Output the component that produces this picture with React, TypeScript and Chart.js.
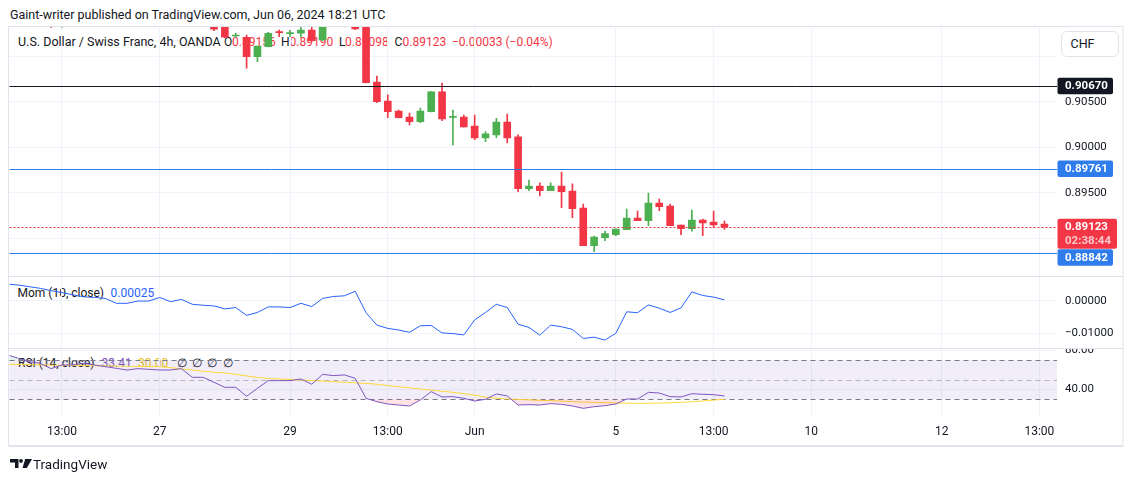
import { useEffect, useRef } from 'react';
import { Chart, registerables } from 'chart.js';

Chart.register(...registerables);

// 4h bars, index 0 = bar at the left edge of the panes.
// null = bar lies above the visible price range
const opens = [
  null, null, null, null, 0.9142, 0.9138, null, null, null, null,
  null, null, null, null, null, null, null, null, null, 0.9136,
  0.9134, 0.91221, 0.91207, 0.90994, 0.91104, 0.91265, 0.91248, 0.91251, 0.91287, 0.91177,
  null, 0.9137, 0.9136, 0.91345, 0.90716, 0.90508, 0.90398, 0.90332, 0.90281, 0.90391,
  0.90607, 0.90327, 0.90332, 0.90233, 0.90102, 0.90135, 0.90277, 0.90113, 0.89545, 0.89575,
  0.89523, 0.89575, 0.8952, 0.89333, 0.88919, 0.89007, 0.8904, 0.89095, 0.89223, 0.89194,
  0.89388, 0.89355, 0.89146, 0.89106, 0.89201, 0.89179, 0.89156,
];
const highs = [
  null, null, null, null, 0.9146, 0.9147, null, null, null, null,
  null, null, null, null, null, null, null, null, null, 0.914,
  0.9137, 0.91251, 0.91232, 0.91111, 0.91262, 0.91287, 0.91283, 0.91331, 0.91323, 0.9138,
  null, 0.9143, 0.914, 0.9138, 0.90782, 0.90574, 0.90409, 0.90376, 0.90431, 0.9061,
  0.90705, 0.90409, 0.90354, 0.90354, 0.90171, 0.90318, 0.90365, 0.90135, 0.8964, 0.89608,
  0.89608, 0.89728, 0.89597, 0.89377, 0.89026, 0.8908, 0.89102, 0.89322, 0.893, 0.89498,
  0.89432, 0.89377, 0.89146, 0.89311, 0.89212, 0.893, 0.8919,
];
const lows = [
  null, null, null, null, 0.91315, 0.91315, null, null, null, null,
  null, null, null, null, null, null, null, null, null, 0.91279,
  0.91204, 0.91207, 0.90867, 0.90939, 0.911, 0.91214, 0.91214, 0.91207, 0.91165, 0.9117,
  null, 0.91322, 0.91292, 0.90705, 0.9049, 0.90325, 0.90322, 0.90244, 0.9027, 0.90388,
  0.90292, 0.90025, 0.9022, 0.90083, 0.90061, 0.90105, 0.90047, 0.89512, 0.89523, 0.89465,
  0.89523, 0.89337, 0.89227, 0.88919, 0.88854, 0.88974, 0.89029, 0.89095, 0.89194, 0.89139,
  0.89304, 0.89139, 0.8904, 0.8908, 0.89029, 0.89121, 0.89098,
];
const closes = [
  null, null, null, null, 0.9138, 0.9143, null, null, null, null,
  null, null, null, null, null, null, null, null, null, 0.91295,
  0.91207, 0.91226, 0.90994, 0.91111, 0.91251, 0.91258, 0.91254, 0.91287, 0.9117, 0.9134,
  null, 0.914, 0.91298, 0.90709, 0.90501, 0.90391, 0.90325, 0.90281, 0.90398, 0.90607,
  0.9031, 0.90331, 0.90222, 0.90102, 0.90146, 0.90277, 0.90102, 0.89545, 0.89575, 0.89523,
  0.89575, 0.89512, 0.89326, 0.88919, 0.89015, 0.89051, 0.89102, 0.89223, 0.89194, 0.89388,
  0.89348, 0.89139, 0.89106, 0.89201, 0.89168, 0.89146, 0.89123,
];

// Momentum (10, close)
const momentum = [
  0.0051, 0.0048, 0.0043, 0.0038, 0.0031, 0.0025, 0.0018, 0.0012, 0.001, 0.0007,
  -0.0008, -0.0008, -0.0001, -0.0001, 0.001, -0.0003, 0.0004, -0.0011, -0.0014, -0.0016,
  -0.0025, -0.0021, -0.0045, -0.0036, -0.0019, -0.0019, -0.0021, -0.0008, -0.0018, 0.0007,
  0.0013, 0.0015, 0.0029, -0.0037, -0.0075, -0.0085, -0.009, -0.0097, -0.0077, -0.0076,
  -0.0099, -0.0101, -0.0105, -0.0059, -0.0036, -0.0011, -0.0021, -0.0072, -0.0082, -0.0106,
  -0.0075, -0.008, -0.0088, -0.0116, -0.0112, -0.0121, -0.01, -0.0034, -0.0037, -0.0013,
  -0.0023, -0.0036, -0.0022, 0.0027, 0.0016, 0.0011, 0.00025,
];

// RSI (14, close) and its moving average
const rsi = [
  75.1, 71.7, 68.3, 66.6, 61.2, 64.9, 64.9, 66.6, 64.9, 63.2,
  61.5, 59.8, 61.2, 60.5, 59.8, 59.8, 61.2, 52.4, 52.4, 47.3,
  42.2, 42.2, 33.1, 41.2, 49.0, 49.0, 49.0, 50.7, 45.3, 55.4,
  54.1, 54.8, 51.4, 31.0, 27.6, 25.2, 24.2, 23.2, 29.3, 37.8,
  32.4, 32.7, 31.0, 28.3, 30.0, 35.4, 33.4, 24.2, 24.6, 24.2,
  25.6, 24.9, 23.2, 20.8, 22.5, 23.5, 25.2, 30.3, 30.3, 37.1,
  36.4, 32.7, 32.4, 35.7, 35.1, 34.7, 33.41,
];
const rsiMa = [
  65.6, 65.4, 65.2, 65.0, 64.8, 64.6, 64.4, 64.3, 64.2, 64.0,
  63.8, 63.6, 63.4, 63.3, 63.2, 62.2, 61.0, 59.8, 58.6, 57.6,
  56.8, 55.4, 53.8, 52.2, 51.2, 50.6, 50.1, 49.7, 49.1, 48.6,
  48.0, 47.4, 46.8, 46.2, 45.3, 44.0, 42.8, 41.6, 40.5, 39.3,
  38.2, 37.1, 35.8, 34.2, 32.2, 31.0, 30.4, 29.9, 29.5, 29.0,
  28.6, 28.1, 27.6, 27.2, 26.9, 26.6, 26.3, 26.0, 25.9, 26.0,
  26.2, 26.5, 26.9, 27.5, 28.3, 29.2, 30.0,
];

// time axis: bar index of each label
const timeTickIdx = [5, 14, 26, 35, 43, 56, 65, 74, 86, 95];
const timeTickLabels = ['13:00', '27', '29', '13:00', 'Jun', '5', '13:00', '10', '12', '13:00'];

const priceGrid = [0.91, 0.905, 0.9, 0.895, 0.89];
const priceLabeled = [0.905, 0.9, 0.895];
const momTicks = [0, -0.01];
const rsiTicks = [40, 80];
const rsiBands = [70, 50, 30];

const BLUE = '#2f7ced';
const GREEN = '#4caf50';
const RED = '#f23645';
const TEXT = '#131722';

const levelLines = [
  { value: 0.9067, color: TEXT },
  { value: 0.89761, color: BLUE },
  { value: 0.88842, color: BLUE },
];
const lastPrice = 0.89123;
const countdown = '02:38:44';

const priceTags = [
  { value: 0.9067, bg: TEXT, sub: '' },
  { value: 0.89761, bg: BLUE, sub: '' },
  { value: lastPrice, bg: RED, sub: countdown },
  { value: 0.88842, bg: BLUE, sub: '' },
];

const FONT = 'Roboto, sans-serif';

const panesPlugin = {
  id: 'panes',
  beforeDatasetsDraw(chart: any) {
    const { ctx, chartArea } = chart;
    const r = chart.scales.yRsi;
    const top = r.getPixelForValue(70);
    const bot = r.getPixelForValue(30);
    ctx.save();
    ctx.fillStyle = 'rgba(126,87,194,0.1)';
    ctx.fillRect(chartArea.left, top, chartArea.right - chartArea.left, bot - top);
    ctx.setLineDash([5, 4]);
    ctx.lineWidth = 1;
    rsiBands.forEach((v) => {
      const y = Math.round(r.getPixelForValue(v)) + 0.5;
      ctx.strokeStyle = v === 50 ? 'rgba(120,123,134,0.5)' : '#787b86';
      ctx.beginPath();
      ctx.moveTo(chartArea.left, y);
      ctx.lineTo(chartArea.right, y);
      ctx.stroke();
    });
    ctx.restore();
  },
  afterDatasetsDraw(chart: any) {
    const { ctx, chartArea } = chart;
    const y = chart.scales.y;
    ctx.save();
    ctx.lineWidth = 1;
    levelLines.forEach((l) => {
      const py = Math.round(y.getPixelForValue(l.value)) + 0.5;
      ctx.strokeStyle = l.color;
      ctx.beginPath();
      ctx.moveTo(chartArea.left, py);
      ctx.lineTo(chartArea.right, py);
      ctx.stroke();
    });
    // last price dotted line
    const py = Math.round(y.getPixelForValue(lastPrice)) + 0.5;
    ctx.strokeStyle = RED;
    ctx.setLineDash([2, 2]);
    ctx.beginPath();
    ctx.moveTo(chartArea.left, py);
    ctx.lineTo(chartArea.right, py);
    ctx.stroke();
    ctx.restore();
  },
  afterDraw(chart: any) {
    const { ctx, chartArea } = chart;
    const y = chart.scales.y;
    const r = chart.scales.yRsi;
    ctx.save();

    // RSI axis labels, clipped to their pane like the original
    ctx.save();
    ctx.beginPath();
    ctx.rect(chartArea.right, r.top + 1, 70, r.bottom - r.top);
    ctx.clip();
    ctx.font = `11.5px ${FONT}`;
    ctx.fillStyle = TEXT;
    ctx.textBaseline = 'middle';
    ctx.textAlign = 'left';
    rsiTicks.forEach((v) => {
      ctx.fillText(v.toFixed(2), chartArea.right + 8, r.getPixelForValue(v));
    });
    ctx.restore();

    // price tags on the right axis
    ctx.font = `bold 11.5px ${FONT}`;
    ctx.textBaseline = 'middle';
    ctx.textAlign = 'left';
    let prevBottom = -Infinity;
    priceTags.forEach((t) => {
      const h = t.sub ? 30 : 16.5;
      const w = t.sub ? 59.5 : 55.5;
      let top = y.getPixelForValue(t.value) - 8.4;
      if (top < prevBottom) top = prevBottom + 0.5;
      ctx.fillStyle = t.bg;
      ctx.beginPath();
      ctx.roundRect(chartArea.right + 0.5, top, w, h, 2);
      ctx.fill();
      ctx.fillStyle = '#ffffff';
      ctx.fillText(t.value.toFixed(5), chartArea.right + 8, top + 8.4);
      if (t.sub) {
        ctx.fillStyle = 'rgba(255,255,255,0.72)';
        ctx.fillText(t.sub, chartArea.right + 8, top + 22.6);
      }
      prevBottom = top + h;
    });

    // pane separators
    ctx.strokeStyle = '#dfe2ea';
    ctx.lineWidth = 1;
    [chart.scales.y.bottom, chart.scales.yMom.bottom].forEach((b: number) => {
      const py = Math.round(b) + 0.5;
      ctx.beginPath();
      ctx.moveTo(9, py);
      ctx.lineTo(1123, py);
      ctx.stroke();
    });

    // outer frame
    ctx.strokeStyle = '#e0e3eb';
    ctx.strokeRect(8.5, 26.5, 1114.5, 419);
    ctx.lineWidth = 2;
    ctx.beginPath();
    ctx.moveTo(8.5, 446);
    ctx.lineTo(1123, 446);
    ctx.stroke();
    ctx.restore();
  },
};

const App = () => {
  const canvasRef = useRef<HTMLCanvasElement>(null);

  useEffect(() => {
    if (!canvasRef.current) return;
    const idx = opens.map((_, i) => i);
    const bars = idx.filter((i) => opens[i] !== null);
    const colorOf = (i: number) => ((closes[i] as number) >= (opens[i] as number) ? GREEN : RED);

    const chart = new Chart(canvasRef.current, {
      type: 'bar',
      data: {
        datasets: [
          {
            type: 'bar',
            label: 'wicks',
            data: bars.map((i) => ({ x: i, y: [lows[i], highs[i]] })) as any,
            backgroundColor: bars.map(colorOf),
            barThickness: 1,
            grouped: false,
            minBarLength: 1,
            yAxisID: 'y',
            clip: 0 as any,
            order: 2,
          },
          {
            type: 'bar',
            label: 'bodies',
            data: bars.map((i) => ({ x: i, y: [opens[i], closes[i]] })) as any,
            backgroundColor: bars.map(colorOf),
            barThickness: 7,
            grouped: false,
            minBarLength: 1,
            yAxisID: 'y',
            clip: 0 as any,
            order: 1,
          },
          {
            type: 'line',
            label: 'Mom',
            data: idx.map((i) => ({ x: i, y: momentum[i] })),
            borderColor: '#2962ff',
            borderWidth: 1,
            pointRadius: 0,
            tension: 0,
            yAxisID: 'yMom',
            clip: 0 as any,
          },
          {
            type: 'line',
            label: 'RSI overbought',
            data: idx.map((i) => ({ x: i, y: rsi[i] })),
            borderWidth: 0,
            pointRadius: 0,
            fill: { target: { value: 70 }, above: 'rgba(8,153,129,0.12)', below: 'transparent' },
            yAxisID: 'yRsi',
            clip: 0 as any,
          },
          {
            type: 'line',
            label: 'RSI',
            data: idx.map((i) => ({ x: i, y: rsi[i] })),
            borderColor: '#7e57c2',
            borderWidth: 1,
            pointRadius: 0,
            tension: 0,
            fill: { target: { value: 30 }, above: 'transparent', below: 'rgba(242,54,69,0.14)' },
            yAxisID: 'yRsi',
            clip: 0 as any,
          },
          {
            type: 'line',
            label: 'RSI MA',
            data: idx.map((i) => ({ x: i, y: rsiMa[i] })),
            borderColor: '#fdd835',
            borderWidth: 1,
            pointRadius: 0,
            tension: 0,
            yAxisID: 'yRsi',
            clip: 0 as any,
          },
        ],
      },
      options: {
        responsive: false,
        animation: false,
        events: [],
        layout: { padding: { left: 9.5, top: 27, right: 10, bottom: 34.3 } },
        plugins: { legend: { display: false }, tooltip: { enabled: false } },
        scales: {
          x: {
            type: 'linear',
            min: 0.17,
            max: 96.62,
            offset: false,
            grid: { color: '#f0f3fa', drawTicks: false, offset: false },
            border: { display: false },
            afterBuildTicks: (s: any) => {
              s.ticks = timeTickIdx.map((v) => ({ value: v }));
            },
            afterFit: (s: any) => {
              s.height = 30;
            },
            ticks: {
              autoSkip: false,
              maxRotation: 0,
              padding: 8,
              color: TEXT,
              font: { family: FONT, size: 12 },
              callback: (_v: any, i: number) => timeTickLabels[i],
            },
          },
          y: {
            type: 'linear',
            position: 'right',
            stack: 'panes',
            stackWeight: 248.5,
            min: 0.88592,
            max: 0.9132,
            grid: { color: '#f0f3fa', drawTicks: false },
            border: { display: false },
            afterBuildTicks: (s: any) => {
              s.ticks = priceGrid.map((v) => ({ value: v }));
            },
            afterFit: (s: any) => {
              s.width = 66;
            },
            ticks: {
              autoSkip: false,
              padding: 8,
              color: TEXT,
              font: { family: FONT, size: 11.5 },
              callback: (v: any) =>
                priceLabeled.some((p) => Math.abs(p - v) < 1e-9) ? Number(v).toFixed(5) : '',
            },
          },
          yMom: {
            type: 'linear',
            position: 'right',
            stack: 'panes',
            stackWeight: 72,
            min: -0.01437,
            max: 0.00774,
            grid: { color: '#f0f3fa', drawTicks: false },
            border: { display: false },
            afterBuildTicks: (s: any) => {
              s.ticks = momTicks.map((v) => ({ value: v }));
            },
            afterFit: (s: any) => {
              s.width = 66;
            },
            ticks: {
              autoSkip: false,
              padding: 8,
              color: TEXT,
              font: { family: FONT, size: 11.5 },
              callback: (v: any) =>
                (v < 0 ? '\u2212' : '') + Math.abs(Number(v)).toFixed(5),
            },
          },
          yRsi: {
            type: 'linear',
            position: 'right',
            stack: 'panes',
            stackWeight: 69.2,
            min: 12.3,
            max: 82.7,
            grid: { color: '#f0f3fa', drawTicks: false },
            border: { display: false },
            afterBuildTicks: (s: any) => {
              s.ticks = rsiTicks.map((v) => ({ value: v }));
            },
            afterFit: (s: any) => {
              s.width = 66;
            },
            ticks: {
              autoSkip: false,
              padding: 8,
              // labels are painted by the panes plugin so they can be clipped
              callback: () => '',
            },
          },
        },
      } as any,
      plugins: [panesPlugin],
    });

    return () => {
      chart.destroy();
    };
  }, []);

  const abs = (left: number, top: number, extra: any = {}) => ({
    position: 'absolute' as const,
    left,
    top,
    lineHeight: '16px',
    whiteSpace: 'nowrap' as const,
    ...extra,
  });

  return (
    <div
      style={{
        position: 'fixed',
        left: 0,
        top: 0,
        width: 1133,
        height: 481,
        background: '#ffffff',
        overflow: 'hidden',
        fontFamily: FONT,
        color: TEXT,
      }}
    >
      <div style={abs(10, 7, { fontSize: 12.5 })}>
        Gaint-writer published on TradingView.com, Jun 06, 2024 18:21 UTC
      </div>

      {/* main legend, drawn under the candles */}
      <div style={abs(18, 34, { fontSize: 12.5 })}>U.S. Dollar / Swiss Franc, 4h, OANDA</div>
      <div style={abs(224, 34, { fontSize: 12 })}>O</div>
      <div style={abs(232, 34, { fontSize: 12, color: RED })}>0.89156</div>
      <div style={abs(281, 34, { fontSize: 12 })}>H</div>
      <div style={abs(289.5, 34, { fontSize: 12, color: RED })}>0.89190</div>
      <div style={abs(339, 34, { fontSize: 12 })}>L</div>
      <div style={abs(345, 34, { fontSize: 12, color: RED })}>0.89098</div>
      <div style={abs(394.5, 34, { fontSize: 12 })}>C</div>
      <div style={abs(402.5, 34, { fontSize: 12, color: RED })}>0.89123</div>
      <div style={abs(452, 34, { fontSize: 12, color: RED })}>{'\u22120.00033 (\u22120.04%)'}</div>

      <div style={abs(17.5, 284.5, { fontSize: 12 })}>Mom (10, close)</div>
      <div style={abs(110.5, 284.5, { fontSize: 12, color: '#2962ff' })}>0.00025</div>

      <div style={abs(18, 355, { fontSize: 12 })}>RSI (14, close)</div>
      <div style={abs(101.5, 355, { fontSize: 12, color: '#7e57c2' })}>33.41</div>
      <div style={abs(138, 355, { fontSize: 12, color: '#e8c21a' })}>30.00</div>
      <div style={abs(176.5, 355, { fontSize: 12 })}>∅</div>
      <div style={abs(191.5, 355, { fontSize: 12 })}>∅</div>
      <div style={abs(206.5, 355, { fontSize: 12 })}>∅</div>
      <div style={abs(222.5, 355, { fontSize: 12 })}>∅</div>

      <canvas
        ref={canvasRef}
        width={1133}
        height={481}
        style={{ position: 'absolute', left: 0, top: 0 }}
      />

      <div
        style={{
          position: 'absolute',
          left: 1061,
          top: 31,
          width: 58,
          height: 26,
          boxSizing: 'border-box',
          border: '1px solid #e0e3eb',
          borderRadius: 6,
          background: '#ffffff',
          fontSize: 12.5,
          lineHeight: '24px',
          paddingLeft: 8.5,
        }}
      >
        CHF
      </div>

      <svg
        style={{ position: 'absolute', left: 10, top: 459 }}
        width={22}
        height={9}
        viewBox="0 0 22 9"
      >
        <path d="M0 0h8.5v9H5V3.4H0z" fill={TEXT} />
        <circle cx={11} cy={1.9} r={1.9} fill={TEXT} />
        <path d="M15.2 0H22l-5.2 9h-4.3z" fill={TEXT} />
      </svg>
      <div style={abs(33, 455.5, { fontSize: 13.5 })}>TradingView</div>
    </div>
  );
};

export default App;
